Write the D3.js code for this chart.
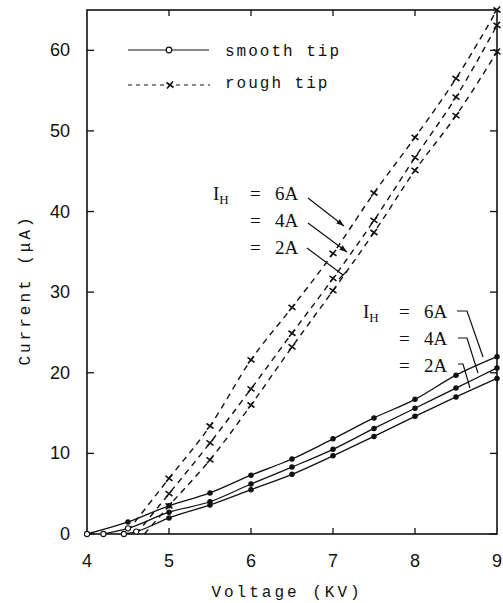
<!DOCTYPE html>
<html>
<head>
  <meta charset="UTF-8">
  <title>current vs voltage</title>
  <style>
    body { margin: 0; background: #fff; }
    svg text { fill: #111; }
  </style>
</head>
<body>
<script src="https://cdn.jsdelivr.net/npm/d3@7"></script>
<script>
// voltage (KV) / current (uA)
var smooth6 = [[4,0],[4.5,1.5],[5,3.5],[5.5,5.1],[6,7.3],[6.5,9.3],[7,11.8],[7.5,14.4],[8,16.7],[8.5,19.7],[9,22]];
var smooth4 = [[4.2,0],[4.5,0.7],[5,2.7],[5.5,4.0],[6,6.2],[6.5,8.3],[7,10.5],[7.5,13.1],[8,15.6],[8.5,18.1],[9,20.6]];
var smooth2 = [[4.45,0],[4.6,0.3],[5,2.0],[5.5,3.6],[6,5.5],[6.5,7.4],[7,9.7],[7.5,12.1],[8,14.6],[8.5,17.0],[9,19.3]];

var rough6 = [[4.5,0.4],[5,6.9],[5.5,13.4],[6,21.6],[6.5,28.1],[7,34.8],[7.5,42.3],[8,49.2],[8.5,56.5],[9,65]];
var rough4 = [[4.6,0],[5,5.0],[5.5,11.3],[6,18.0],[6.5,24.9],[7,31.7],[7.5,38.9],[8,46.7],[8.5,54.2],[9,63.1]];
var rough2 = [[4.7,0],[5,3.5],[5.5,9.2],[6,16.0],[6.5,23.2],[7,30.2],[7.5,37.4],[8,45.1],[8.5,51.9],[9,59.8]];

var xTicks = [4, 5, 6, 7, 8, 9];
var yTicks = [0, 10, 20, 30, 40, 50, 60];
var legendNames = ["smooth tip", "rough tip"];
var currents = ["6A", "4A", "2A"];

var W = 503, H = 603;
var svg = d3.select("body").append("svg").attr("width", W).attr("height", H);

var x = d3.scaleLinear().domain([4, 9]).range([87, 497]);
var y = d3.scaleLinear().domain([0, 65]).range([534, 10]);

var mono = "'Liberation Mono', 'DejaVu Sans Mono', monospace";
var sans = "'Liberation Sans', Arial, sans-serif";
var serif = "'Liberation Serif', 'DejaVu Serif', serif";

// frame
svg.append("rect")
  .attr("x", x(4)).attr("y", y(65))
  .attr("width", x(9) - x(4)).attr("height", y(0) - y(65))
  .attr("fill", "none").attr("stroke", "#111").attr("stroke-width", 1.6);

// inward ticks on all four sides
var g = svg.append("g").attr("stroke", "#111").attr("stroke-width", 1.3);
yTicks.forEach(function (t) {
  g.append("line").attr("x1", x(4)).attr("x2", x(4) + 7).attr("y1", y(t)).attr("y2", y(t));
  g.append("line").attr("x1", x(9)).attr("x2", x(9) - 7).attr("y1", y(t)).attr("y2", y(t));
});
xTicks.slice(1, -1).forEach(function (t) {
  g.append("line").attr("x1", x(t)).attr("x2", x(t)).attr("y1", y(0)).attr("y2", y(0) - 6);
  g.append("line").attr("x1", x(t)).attr("x2", x(t)).attr("y1", y(65)).attr("y2", y(65) + 6);
});

// tick labels
svg.selectAll(".yl").data(yTicks).enter().append("text")
  .attr("x", 70).attr("y", function (d) { return y(d) + 6; })
  .attr("text-anchor", "end").style("font-family", sans).style("font-size", "18px")
  .text(function (d) { return d; });
svg.selectAll(".xl").data(xTicks).enter().append("text")
  .attr("x", function (d) { return x(d); }).attr("y", 567)
  .attr("text-anchor", "middle").style("font-family", sans).style("font-size", "18px")
  .text(function (d) { return d; });

// axis titles
svg.append("text")
  .attr("transform", "translate(30,290) rotate(-90)")
  .attr("text-anchor", "middle").style("font-family", mono).style("font-size", "16px")
  .style("letter-spacing", "3px")
  .text("Current (\u03BCA)");
svg.append("text")
  .attr("x", 287).attr("y", 597)
  .attr("text-anchor", "middle").style("font-family", mono).style("font-size", "16px")
  .style("letter-spacing", "3px")
  .text("Voltage (KV)");

var line = d3.line()
  .x(function (d) { return x(d[0]); })
  .y(function (d) { return y(d[1]); })
  .curve(d3.curveMonotoneX);

var cross = function (sel, cx, cy) {
  sel.append("path")
    .attr("d", "M" + (cx - 3.5) + "," + (cy - 2.5) + "L" + (cx + 3.5) + "," + (cy + 2.5) +
               "M" + (cx + 3) + "," + (cy - 3.5) + "L" + (cx - 3) + "," + (cy + 3.5))
    .attr("stroke", "#111").attr("stroke-width", 1.6).attr("fill", "none");
};

// rough tip (dashed)
[rough6, rough4, rough2].forEach(function (s) {
  svg.append("path").datum(s).attr("d", line)
    .attr("fill", "none").attr("stroke", "#111").attr("stroke-width", 1.4)
    .attr("stroke-dasharray", "6,5");
  s.filter(function (d) { return d[0] >= 5; }).forEach(function (d) {
    cross(svg, x(d[0]), y(d[1]));
  });
});

// smooth tip (solid)
[smooth6, smooth4, smooth2].forEach(function (s) {
  svg.append("path").datum(s).attr("d", line)
    .attr("fill", "none").attr("stroke", "#111").attr("stroke-width", 1.3);
  svg.selectAll(null).data(s).enter().append("circle")
    .attr("cx", function (d) { return x(d[0]); })
    .attr("cy", function (d) { return y(d[1]); })
    .attr("r", function (d) { return d[1] < 1 ? 2.6 : 2.2; })
    .attr("fill", function (d) { return d[1] < 1 ? "#fff" : "#111"; })
    .attr("stroke", "#111").attr("stroke-width", 1.1);
});

// legend
var lg = svg.append("g");
lg.append("line").attr("x1", 128).attr("x2", 209).attr("y1", 50).attr("y2", 50)
  .attr("stroke", "#111").attr("stroke-width", 1.2);
lg.append("circle").attr("cx", 169).attr("cy", 50).attr("r", 2.8)
  .attr("fill", "#fff").attr("stroke", "#111").attr("stroke-width", 1.2);
lg.append("line").attr("x1", 128).attr("x2", 210).attr("y1", 85).attr("y2", 85)
  .attr("stroke", "#111").attr("stroke-width", 1.2).attr("stroke-dasharray", "4,4");
cross(lg, 170, 85);
lg.selectAll("text").data(legendNames).enter().append("text")
  .attr("x", 225).attr("y", function (d, i) { return 56 + i * 32; })
  .style("font-family", mono).style("font-size", "16px").style("letter-spacing", "2px")
  .text(function (d) { return d; });

// I_H labels
function ihLabels(x0, xEq, yTop) {
  var t = svg.append("text").attr("x", x0).attr("y", yTop)
    .style("font-family", serif).style("font-size", "19px");
  t.append("tspan").text("I");
  t.append("tspan").attr("dy", 4).style("font-size", "13px").text("H");
  currents.forEach(function (c, i) {
    svg.append("text").attr("x", xEq).attr("y", yTop + i * 27)
      .style("font-family", serif).style("font-size", "19px")
      .style("white-space", "pre")
      .text("=   " + c);
  });
}
ihLabels(213, 250, 200);
ihLabels(363, 399, 318);

var ag = svg.append("g").attr("stroke", "#111").attr("stroke-width", 1.2).attr("fill", "none");
// arrows to the rough-tip lines
[[308, 198, 344, 226], [308, 223, 347, 252]].forEach(function (a) {
  ag.append("line").attr("x1", a[0]).attr("y1", a[1]).attr("x2", a[2]).attr("y2", a[3]);
  var ang = Math.atan2(a[3] - a[1], a[2] - a[0]);
  var p1 = [a[2] - 8 * Math.cos(ang - 0.35), a[3] - 8 * Math.sin(ang - 0.35)];
  var p2 = [a[2] - 8 * Math.cos(ang + 0.35), a[3] - 8 * Math.sin(ang + 0.35)];
  svg.append("path").attr("d", "M" + a[2] + "," + a[3] + "L" + p1 + "L" + p2 + "Z").attr("fill", "#111");
});
ag.append("line").attr("x1", 307).attr("y1", 248).attr("x2", 343).attr("y2", 275);
ag.append("line").attr("x1", 339).attr("y1", 279).attr("x2", 347).attr("y2", 271);

// leaders to the smooth-tip lines
[[457, 311, 467, 483, 357], [458, 338, 467, 478, 373], [458, 364, 463, 470, 388]].forEach(function (l) {
  ag.append("path").attr("d", "M" + l[0] + "," + l[1] + "L" + l[2] + "," + l[1] + "L" + l[3] + "," + l[4]);
});
</script>
</body>
</html>
